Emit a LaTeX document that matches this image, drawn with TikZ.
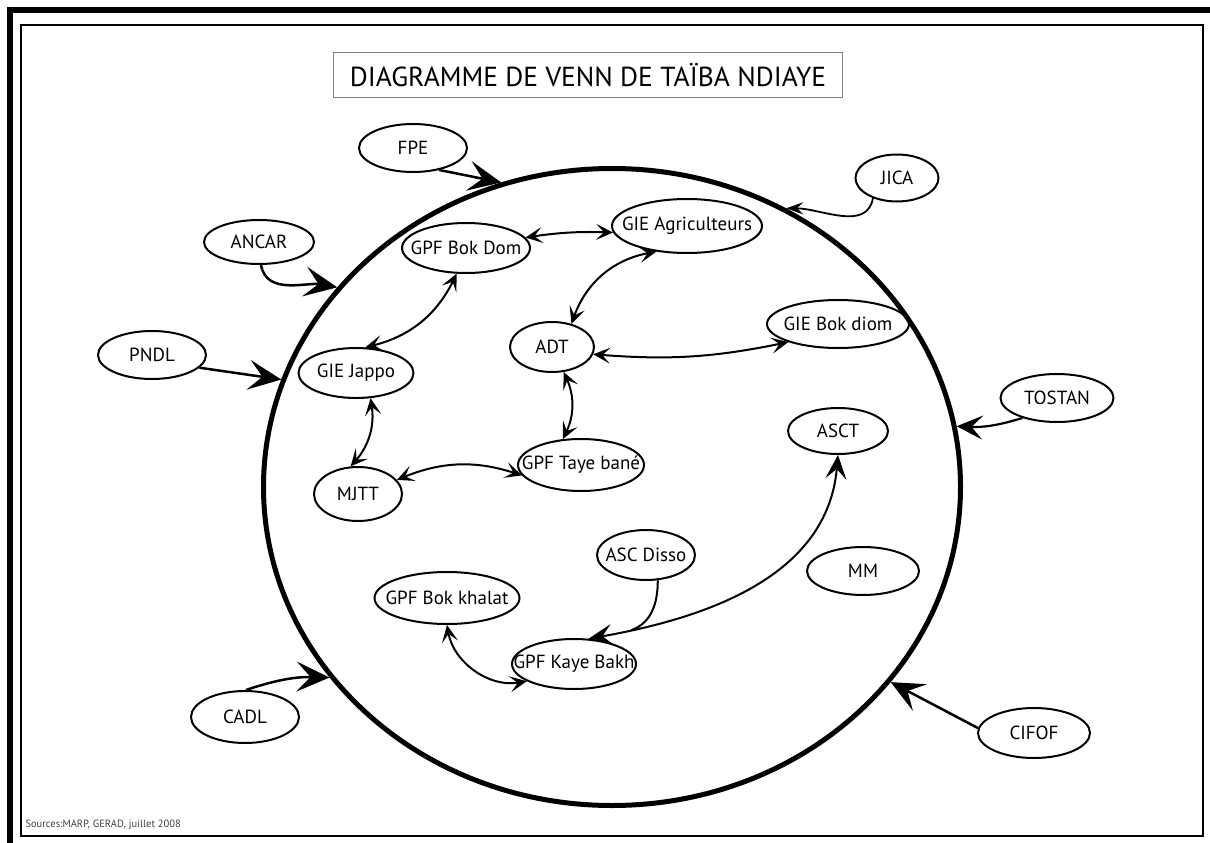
\documentclass[tikz,border=0pt]{standalone}
\usepackage{fontspec}
\setmainfont{PT Sans}
\usetikzlibrary{shapes.geometric, arrows.meta, positioning}

\begin{document}
\begin{tikzpicture}[x=1pt, y=1pt]
        % Define styles
        \tikzset{
            org/.style={ellipse, draw, line width=2pt, inner xsep=-25pt, inner ysep=0pt, font=\fontsize{19}{21}\selectfont},
            link/.style={{Stealth[length=17pt,width=16pt,inset=8pt]}-{Stealth[length=17pt,width=16pt,inset=8pt]}, line width=2pt},
            influence/.style={-{Stealth[length=33pt,width=30pt,inset=14pt]}, line width=2.5pt}
        }
        \useasboundingbox (0,0) rectangle (1210,-843);
        % Double frame
        \draw[line width=6pt] (10,-843) -- (10,-10) -- (1210,-10);
        \draw[line width=2.5pt] (21,-25) rectangle (1203,-836);
        % Title
        \node[draw=gray, line width=1.2pt, minimum width=509pt, minimum height=45pt, font=\fontsize{27.5}{29}\selectfont] (title) at (588,-75) {DIAGRAMME DE VENN DE TAÏBA NDIAYE};
        % The village
        \node[ellipse, draw, line width=5pt, minimum width=697pt, minimum height=637pt] (village) at (612,-487) {};
        % Outside partners
        \node[org, minimum width=108pt, minimum height=48pt] (fpe) at (413,-148) {FPE};
        \node[org, minimum width=83pt, minimum height=47pt] (jica) at (897,-178) {JICA};
        \node[org, minimum width=110pt, minimum height=44pt] (ancar) at (259,-242) {ANCAR};
        \node[org, minimum width=108pt, minimum height=48pt] (pndl) at (152,-355) {PNDL};
        \node[org, minimum width=113pt, minimum height=48pt] (tostan) at (1057,-398) {TOSTAN};
        \node[org, minimum width=108pt, minimum height=52pt] (cadl) at (245,-717) {CADL};
        \node[org, minimum width=112pt, minimum height=50pt] (cifof) at (1034,-733) {CIFOF};
        % Local groups
        \node[org, minimum width=128pt, minimum height=50pt] (bokdom) at (466,-248) {GPF Bok Dom};
        \node[org, minimum width=150pt, minimum height=54pt] (agri) at (687,-226) {GIE Agriculteurs};
        \node[org, minimum width=142pt, minimum height=48pt] (bokdiom) at (838,-324) {GIE Bok diom};
        \node[org, minimum width=84pt, minimum height=50pt] (adt) at (552,-347) {ADT};
        \node[org, minimum width=115pt, minimum height=50pt] (jappo) at (356,-373) {GIE Jappo};
        \node[org, minimum width=100pt, minimum height=46pt] (asct) at (838,-431) {ASCT};
        \node[org, minimum width=126pt, minimum height=52pt] (tayebane) at (581,-465) {GPF Taye bané};
        \node[org, minimum width=88pt, minimum height=54pt] (mjtt) at (358,-494) {MJTT};
        \node[org, minimum width=98pt, minimum height=50pt] (ascdisso) at (646,-555) {ASC Disso};
        \node[org, minimum width=112pt, minimum height=48pt] (mm) at (863,-571) {MM};
        \node[org, minimum width=145pt, minimum height=52pt] (bokkhalat) at (447,-598) {GPF Bok khalat};
        \node[org, minimum width=124pt, minimum height=50pt] (kayebakh) at (574,-664) {GPF Kaye Bakh};
        % Source
        \node[anchor=west, text=darkgray, font=\fontsize{10.5}{12}\selectfont] (source) at (22,-825) {Sources:MARP, GERAD, juillet 2008};
        % Arrows from outside into the village
        \draw[influence] (fpe.-40) -- (village.110);
        \draw[influence] (ancar.-85) to[out=-80, in=170] (village.144);
        \draw[influence] (pndl.-15) -- (village.162);
        \draw[influence] (cadl.88) to[bend left=10] (village.214);
        \draw[-{Stealth[length=17pt,width=12pt,inset=6pt]}, line width=1.8pt] (jica.-140) to[out=-100, in=0] (village.58);
        \draw[-{Stealth[length=26pt,width=24pt,inset=11pt]}, line width=2.2pt] (tostan.-150) to[bend left=10] (village.10);
        \draw[influence] (cifof.175) -- (village.-35);
        % Links inside the village
        \draw[link] (bokdom.10) to[bend left=5] (agri.185);
        \draw[link] (agri.-140) to[bend right=30] (adt.50);
        \draw[link] (bokdom.-110) to[bend left=25] (jappo.70);
        \draw[link] (adt.-10) to[bend right=8] (bokdiom.200);
        \draw[link] (adt.-65) to[bend left=25] (tayebane.125);
        \draw[link] (jappo.-60) to[bend left=25] (mjtt.105);
        \draw[link] (mjtt.20) to[bend left=20] (tayebane.190);
        \draw[link] (bokkhalat.-90) to[out=-80, in=190] (kayebakh.200);
        \draw[link, {Stealth[length=24pt,width=21pt,inset=10pt]}-{Stealth[length=24pt,width=21pt,inset=10pt]}] (kayebakh.60) to[out=10, in=-95] coordinate[pos=0.12] (join) (asct.south);
        \draw[line width=2pt] (ascdisso.-65) to[out=-90, in=20] (join);
\end{tikzpicture}
\end{document}
